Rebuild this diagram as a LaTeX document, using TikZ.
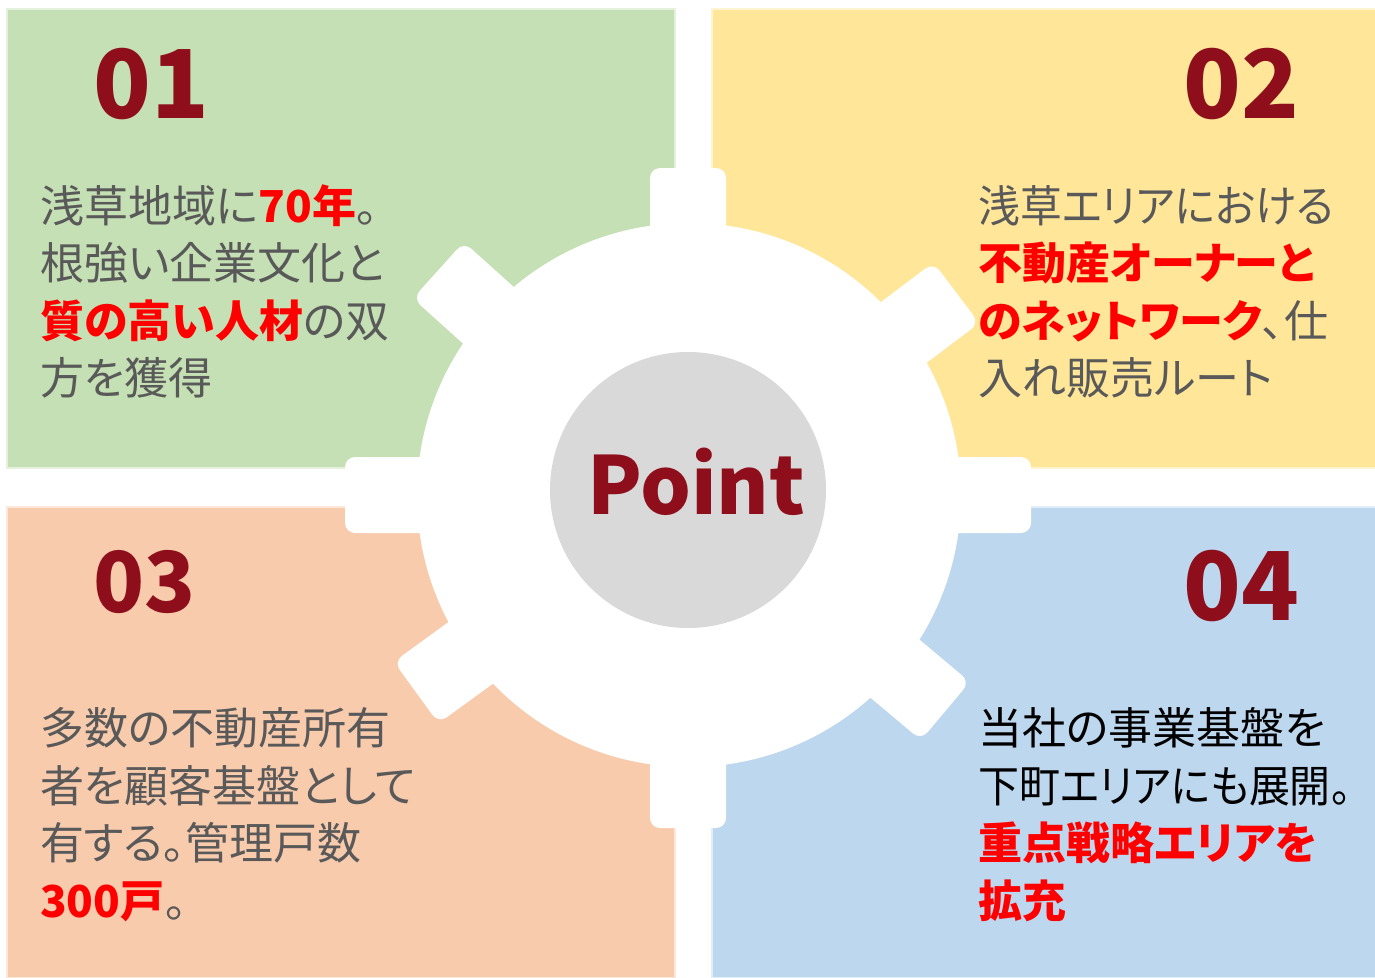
\documentclass[tikz,border=0pt]{standalone}
\usepackage{fontspec}
\setmainfont{Noto Sans CJK JP}[RawFeature=+palt]
\definecolor{pgreen}{HTML}{C5E0B4}
\definecolor{pyellow}{HTML}{FFE699}
\definecolor{porange}{HTML}{F8CBAD}
\definecolor{pblue}{HTML}{BDD7EE}
\definecolor{numred}{HTML}{8E0F1B}
\definecolor{txtgray}{HTML}{595959}
\definecolor{hired}{HTML}{FF0000}
\definecolor{cgray}{HTML}{D9D9D9}
\newcommand{\hl}[1]{{\bfseries\color{hired}#1}}
\tikzset{
  panel/.style={line width=2},
  tooth/.style={fill=white, rounded corners=10},
  numtxt/.style={inner sep=0, anchor=base west, text=numred, font=\fontsize{95}{95}\selectfont\bfseries},
  bodytxt/.style={inner sep=0, anchor=base west, text=txtgray, font=\fontsize{44}{50}\selectfont},
}
\begin{document}
\begin{tikzpicture}[x=1pt,y=-1pt]
\useasboundingbox[fill=white] (0,0) rectangle (1375,977);
% panels
\fill[pgreen, draw=pgreen!45!white, panel] (7,9) rectangle (675,468);
\fill[pyellow, draw=pyellow!45!white, panel] (712,9) rectangle (1376,468);
\fill[porange, draw=porange!45!white, panel] (7,507) rectangle (675,978);
\fill[pblue, draw=pblue!45!white, panel] (712,507) rectangle (1376,978);
% gear
\fill[white] (689,495) circle (272);
\foreach \ang/\len in {0/343, 90/327, 180/343, 270/333, 138/336, 37/336, 216/336, -40/336}{
  \begin{scope}[shift={(688,495)}, rotate=\ang]
    \fill[tooth] (0,-38) rectangle (\len,38);
  \end{scope}
}
\node[circle, fill=cgray, minimum size=276, inner sep=0] (center) at (688,490) {};
\node[inner sep=0, anchor=base, text=numred, font=\fontsize{80}{80}\selectfont\bfseries] (point) at (696,514) {Point};
% numbers
\node[numtxt] (n1) at (93,118) {01};
\node[numtxt] (n2) at (1183,118) {02};
\node[numtxt, font=\fontsize{84}{84}\selectfont\bfseries] (n3) at (93,612) {03};
\node[numtxt] (n4) at (1183,620) {04};
% panel 1
\node[bodytxt] (a1) at (40,222) {浅草地域に\hl{70年}。};
\node[bodytxt] (a2) at (40,279) {根強い企業文化と};
\node[bodytxt] (a3) at (40,337) {\hl{質の高い人材}の双};
\node[bodytxt] (a4) at (40,394) {方を獲得};
% panel 2
\node[bodytxt] (b1) at (978,222) {\scalebox{0.95}[1]{浅草エリアにおける}};
\node[bodytxt] (b2) at (978,279) {\hl{不動産オーナーと}};
\node[bodytxt] (b3) at (978,337) {\hl{のネットワーク}、仕};
\node[bodytxt] (b4) at (978,394) {入れ販売ルート};
% panel 3
\node[bodytxt] (c1) at (40,744) {多数の不動産所有};
\node[bodytxt] (c2) at (40,802) {者を顧客基盤として};
\node[bodytxt] (c3) at (40,859) {有する。管理戸数};
\node[bodytxt] (c4) at (40,917) {\hl{300戸}。};
% panel 4
\node[bodytxt, text=black] (d1) at (978,744) {当社の事業基盤を};
\node[bodytxt, text=black] (d2) at (978,802) {\scalebox{0.93}[1]{下町エリアにも展開。}};
\node[bodytxt] (d3) at (978,859) {\hl{重点戦略エリアを}};
\node[bodytxt] (d4) at (978,917) {\hl{拡充}};
\end{tikzpicture}
\end{document}
